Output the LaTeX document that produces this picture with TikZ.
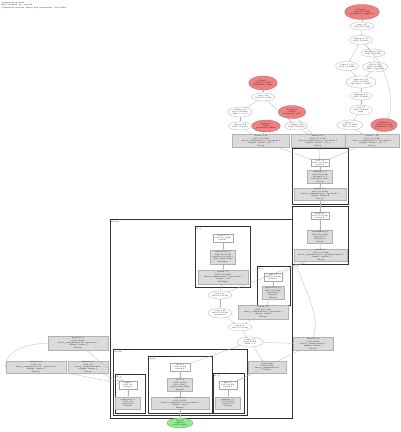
\documentclass[tikz,border=0pt]{standalone}
\usetikzlibrary{shapes.geometric,arrows.meta}
\definecolor{paramred}{RGB}{240,128,128}
\definecolor{rootgreen}{RGB}{144,238,144}
\begin{document}
\begin{tikzpicture}[x=1pt,y=-1pt,
 every node/.style={font=\fontsize{1.9}{2.3}\selectfont, inner sep=0.3pt, align=center},
 el/.style={ellipse, draw=gray!70, line width=0.25pt, fill=white},
 rd/.style={ellipse, draw=paramred!70!black, line width=0.25pt, fill=paramred},
 wb/.style={rectangle, draw=gray!70, line width=0.25pt, fill=white},
 gb/.style={rectangle, draw=gray!60, line width=0.25pt, fill=gray!28},
 gr/.style={ellipse, draw=rootgreen!60!black, line width=0.25pt, fill=rootgreen},
 cl/.style={draw=black!80, line width=0.6pt},
 cll/.style={font=\fontsize{1.7}{2}\selectfont, anchor=north west, inner sep=0.5pt, align=left},
 ed/.style={draw=gray!60, line width=0.25pt, -{Stealth[length=1.2pt,width=1pt]}}
]
\useasboundingbox[fill=white] (0,0) rectangle (400,432);
% title
\node[cll, font=\fontsize{2}{2.6}\selectfont] (title) at (1,1) {Computation main\\HLO module: jit\_step.42\\Computation main, fusion and parameters, 108 nodes};

% clusters
\draw[cl] (292,148) rectangle (348,204);
\node[cll] (k1l) at (292,148) {fusion.5};
\draw[cl] (292,206) rectangle (348,264);
\node[cll] (k2l) at (292,206) {fusion.6};
\draw[cl] (110,219) rectangle (292,418);
\node[cll] (bigl) at (110,219) {fusion\\kOutput};
\draw[cl] (195,226) rectangle (250,287);
\node[cll] (al) at (195,226) {fused\_computation.7\\kLoop};
\draw[cl] (257,266) rectangle (290,305);
\node[cll] (bl) at (257,266) {fusion.8\\kLoop};
\draw[cl] (113,349) rectangle (247,415);
\node[cll] (cl0) at (113,349) {fused\_computation\\kOutput};
\draw[cl] (115,374) rectangle (145,413);
\node[cll] (c1l) at (115,374) {fused\_comp.1\\kLoop};
\draw[cl] (148,356) rectangle (212,413);
\node[cll] (c2l) at (148,356) {fused\_computation.2\\kInput};
\draw[cl] (213,373) rectangle (244,413);
\node[cll] (c3l) at (213,373) {fused\_comp.3\\kLoop};

% right chain
\node[rd, minimum width=26pt, minimum height=15pt] (r1) at (362,12) {Param 1\\f32[1,32,32,64]\\parameter: weights.1};
\node[el, minimum width=22pt, minimum height=8pt] (r2) at (362,26) {copy.1.45\\f32[1,32,32,64]};
\node[el, minimum width=22pt, minimum height=9pt] (r3) at (361,40) {reshape.1.31\\f32[1,32,2048]};
\node[el, minimum width=20pt, minimum height=8pt] (r4) at (373,53) {broadcast.1.22\\f32[1,32,2048]};
\node[el, minimum width=22pt, minimum height=9pt] (r5) at (347,66) {reduce.1.12\\f32[1,32,2048]};
\node[el, minimum width=25pt, minimum height=10pt] (r6) at (375,67) {divide.1.20\\f32[1,32,2048]\\dim={1} op=mul};
\node[el, minimum width=30pt, minimum height=12pt] (r7) at (361,82) {subtract.1.15\\f32[1,32,2048]\\operand 0: reduce};
\node[el, minimum width=22pt, minimum height=8pt] (r8) at (361,96) {multiply.1.9\\f32[1,32,2048]};
\node[el, minimum width=22pt, minimum height=9pt] (r9) at (361,110) {add.1.7\\f32[1,32,2048]\\rsqrt};
\node[el, minimum width=26pt, minimum height=10pt] (r10) at (350,125) {rsqrt.1.3\\f32[1,32,2048]\\after reduce};
\node[rd, minimum width=24pt, minimum height=13pt] (r11) at (384,125) {Param 2\\f32[1,32,32,64]\\parameter: bias};

% middle chain
\node[rd, minimum width=26pt, minimum height=14pt] (m1) at (263,83) {Param 3\\f32[1,32,32,64]\\parameter: input};
\node[el, minimum width=22pt, minimum height=8pt] (m2) at (263,97) {copy.3.16\\f32[1,32,32,64]};
\node[el, minimum width=24pt, minimum height=10pt] (m3) at (240,112) {reshape.3.8\\f32[1,32,2048]\\dims = {0,1,2}};
\node[rd, minimum width=22pt, minimum height=13pt] (m4) at (292,112) {Param 4\\f32[64]\\parameter: scale};
\node[el, minimum width=22pt, minimum height=8pt] (m5) at (240,126) {convert.3.4\\f32[1,32,2048]};
\node[rd, minimum width=22pt, minimum height=12pt] (m6) at (266,126) {Param 5\\f32[64]\\parameter: offset};
\node[el, minimum width=22pt, minimum height=8pt] (m7) at (296,126) {reshape.3.2\\f32[1,32,2048]};

% top gray boxes
\node[gb, minimum width=57pt, minimum height=13pt] (g1) at (261,141) {fusion.3.12\\f32[1,32,32,64]\\fused\_computation.3: operands 2\\output: fusion.5 (0), 1\\kLoop};
\node[gb, minimum width=54pt, minimum height=13pt] (g2) at (318,141) {fusion.4.13\\f32[1,32,32,64]\\fused\_computation.4: operands 2\\output: fusion.5 (1), 2\\kLoop};
\node[gb, minimum width=54pt, minimum height=13pt] (g3) at (372,141) {fusion.5.14\\f32[1,32,32,64]\\fused\_computation.5: operands 2\\output: fusion.5 (2), 3\\kLoop};

% cluster K1
\node[wb, minimum width=18pt, minimum height=7pt] (k1a) at (320,163) {add.5.2\\f32[1,32,32,64]\\fusion.5};
\node[gb, minimum width=25pt, minimum height=13pt] (k1b) at (320,177) {multiply.5.5\\f32[1,32,32,64]\\operand 0, 1\\broadcast scale\\kLoop};
\node[gb, minimum width=52pt, minimum height=12pt] (k1c) at (320,194) {fusion.5.9\\f32[1,32,32,64]\\fused\_computation.5: operands 3\\output: fusion.6\\kLoop};

% cluster K2
\node[wb, minimum width=18pt, minimum height=7pt] (k2a) at (320,216) {max.6.2\\f32[1,32,32,64]\\fusion.6};
\node[gb, minimum width=25pt, minimum height=13pt] (k2b) at (320,237) {maximum.6.4\\f32[1,32,32,64]\\operand 0\\constant 0\\kLoop};
\node[gb, minimum width=53pt, minimum height=12pt] (k2c) at (321,255) {fusion.6.7\\f32[1,32,32,64]\\fused\_computation.6: operands fusion.5\\output: fusion.8\\kLoop};

% cluster A
\node[wb, minimum width=20pt, minimum height=8pt] (a1) at (223,238) {conv.7.3\\f32[1,32,32,64]\\fusion.7};
\node[gb, minimum width=25pt, minimum height=14pt] (a2) at (223,257) {convolution.7.5\\f32[1,32,32,64]\\window 3x3 pad 1\\dim\_labels b01f\\kOutput};
\node[gb, minimum width=50pt, minimum height=14pt] (a3) at (223,277) {fusion.7.9\\f32[1,32,32,64]\\fused\_computation.7: operands 2\\output: add\\kOutput};

% cluster B
\node[wb, minimum width=18pt, minimum height=8pt] (b1) at (273,277) {exp.8.1\\f32[1,32,32,64]\\fusion.8};
\node[gb, minimum width=22pt, minimum height=13pt] (b2) at (273,293) {exponential.8.3\\f32[1,32,32,64]\\operand 0\\fusion.6\\kLoop};

% middle of big cluster
\node[el, minimum width=24pt, minimum height=8pt] (e1) at (220,295) {add.2.18\\f32[1,32,32,64]};
\node[gb, minimum width=50pt, minimum height=14pt] (g4) at (263,312) {fusion.8.6\\f32[1,32,32,64]\\fused\_computation.8: operands 2\\output: reduce\\kLoop};
\node[el, minimum width=22pt, minimum height=10pt] (e2) at (220,313) {tanh.2.14\\f32[1,32,32,64]\\operand 0};
\node[el, minimum width=22pt, minimum height=8pt] (e3) at (240,327) {add.2.11\\f32[1,32,32,64]};
\node[el, minimum width=26pt, minimum height=10pt] (e4) at (250,342) {reduce.2.7\\f32[1,32,64]\\dims = {2}};
\node[gb, minimum width=38pt, minimum height=12pt] (g5) at (267,367) {fusion.9.4\\f32[1,32,64]\\fused\_computation.9\\kLoop};

% cluster C
\node[wb, minimum width=18pt, minimum height=8pt] (c1a) at (128,385) {sum.1\\f32[1,32]\\fusion.1};
\node[gb, minimum width=25pt, minimum height=12pt] (c1b) at (128,403) {reduction.1.3\\f32[1,32]\\operand 0\\kLoop};
\node[wb, minimum width=20pt, minimum height=8pt] (c2a) at (180,367) {dot.2.1\\f32[1,32,64]\\fusion.2};
\node[gb, minimum width=25pt, minimum height=13pt] (c2b) at (180,385) {dot.2.4\\f32[1,32,64]\\lhs 2, rhs 0\\contracting dims\\kInput};
\node[gb, minimum width=58pt, minimum height=12pt] (c2c) at (180,403) {fusion.2.8\\f32[1,32,64]\\fused\_computation.2: operands 3\\output: tuple\\kInput};
\node[wb, minimum width=18pt, minimum height=8pt] (c3a) at (228,385) {mul.3.1\\f32[1,32,64]\\fusion.3};
\node[gb, minimum width=25pt, minimum height=12pt] (c3b) at (228,403) {multiply.3.3\\f32[1,32,64]\\operand 0\\kLoop};

% outside boxes
\node[gb, minimum width=60pt, minimum height=14pt] (g6) at (78,343) {fusion.10.5\\f32[1,32,64]\\fused\_computation.10: operands 3\\output: fusion.1\\kLoop};
\node[gb, minimum width=60pt, minimum height=11pt] (g7) at (36,367) {fusion.11.2\\f32[1,32]\\fused\_computation.11: operands 1\\output: fusion.1\\kLoop};
\node[gb, minimum width=40pt, minimum height=11pt] (g8) at (88,367) {fusion.12.3\\f32[1,32]\\fused\_computation.12\\output: fusion.1\\kLoop};
\node[gb, minimum width=40pt, minimum height=13pt] (g9) at (313,344) {fusion.13.6\\f32[1,32,64]\\fused\_computation.13\\output: fusion.3\\kLoop};

\node[gr, minimum width=26pt, minimum height=10pt] (root) at (180,423) {ROOT\\tuple.42\\(f32[1,32,64])};

% edges
\draw[ed] (r1) -- (r2);
\draw[ed] (r2) -- (r3);
\draw[ed] (r3) -- (r4);
\draw[ed] (r3) -- (r5);
\draw[ed] (r4) -- (r6);
\draw[ed] (r5) -- (r7);
\draw[ed] (r6) -- (r7);
\draw[ed] (r7) -- (r8);
\draw[ed] (r8) -- (r9);
\draw[ed] (r9) -- (r10);
\draw[ed] (r3) .. controls (390,70) and (395,105) .. (r11);
\draw[ed] (r10) -- (g3);
\draw[ed] (r11) -- (g3);
\draw[ed] (m1) -- (m2);
\draw[ed] (m2) -- (m3);
\draw[ed] (m2) -- (m7);
\draw[ed] (m3) -- (m5);
\draw[ed] (m5) -- (g1);
\draw[ed] (m6) -- (g1);
\draw[ed] (m4) -- (g2);
\draw[ed] (m7) -- (g2);
\draw[ed] (g1) -- (k1a);
\draw[ed] (g2) -- (k1a);
\draw[ed] (g3) -- (k1a);
\draw[ed] (k1a) -- (k1b);
\draw[ed] (k1b) -- (k1c);
\draw[ed] (k1c) -- (k2a);
\draw[ed] (k2a) -- (k2b);
\draw[ed] (k2b) -- (k2c);
\draw[ed] (k2c) -- (b1);
\draw[ed] (k2c) -- (e1);
\draw[ed] (b1) -- (b2);
\draw[ed] (a1) -- (a2);
\draw[ed] (a2) -- (a3);
\draw[ed] (a3) -- (e1);
\draw[ed] (e1) -- (e2);
\draw[ed] (e2) -- (e3);
\draw[ed] (b2) -- (g4);
\draw[ed] (g4) -- (e3);
\draw[ed] (e3) -- (e4);
\draw[ed] (e4) -- (g5);
\draw[ed] (e4) -- (c2a);
\draw[ed] (c2a) -- (c2b);
\draw[ed] (c2b) -- (c2c);
\draw[ed] (c2c) -- (root);
\draw[ed] (c1a) -- (c1b);
\draw[ed] (c3a) -- (c3b);
\draw[ed] (g6) -- (c1a);
\draw[ed] (g7) -- (c1a);
\draw[ed] (g8) -- (c1a);
\draw[ed] (g5) -- (c3a);
\draw[ed] (g9) -- (c3a);
\draw[ed] (e4) -- (g9);
\draw[ed] (g6.west) .. controls (10,345) and (5,360) .. (g7.west);
\draw[ed] (g9.north) .. controls (320,320) and (310,300) .. (k2c.south west);
\end{tikzpicture}
\end{document}
